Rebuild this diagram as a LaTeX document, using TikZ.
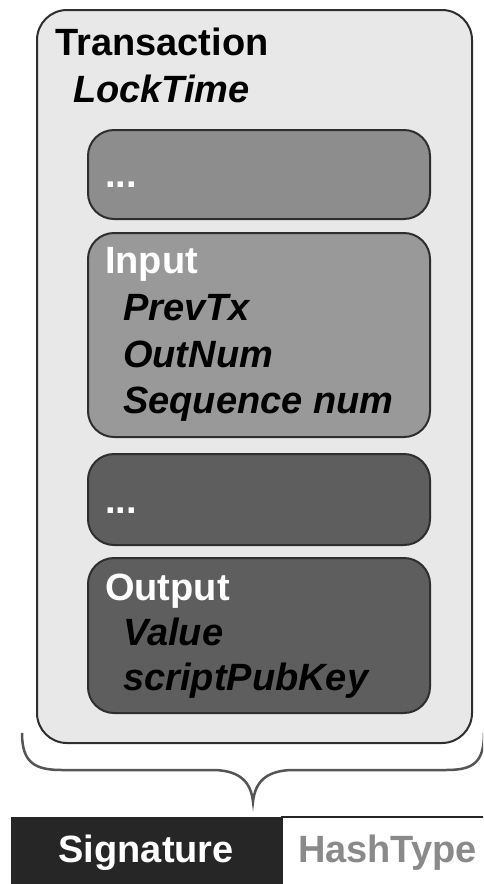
\documentclass[tikz,border=0pt]{standalone}
\usepackage{fontspec}
\setmainfont{Liberation Sans}
\usetikzlibrary{positioning}
\definecolor{txfill}{HTML}{E8E8E8}
\definecolor{rimc}{HTML}{2E2E2E}
\definecolor{infill}{HTML}{999999}
\definecolor{outfill}{HTML}{5E5E5E}
\definecolor{sigfill}{HTML}{262626}
\definecolor{hashtxt}{HTML}{8A8A8A}
\definecolor{bracec}{HTML}{555555}

\begin{document}
\begin{tikzpicture}[x=1pt,y=-1pt,
  outer/.style={draw=rimc,line width=2pt,fill=txfill,rounded corners=30pt,minimum width=435pt,minimum height=733pt},
  field/.style={draw=rimc,line width=2pt,rounded corners=26pt,minimum width=342pt},
  ttl/.style={anchor=base west,inner sep=0pt,font=\fontsize{38}{44}\selectfont\bfseries},
  itm/.style={ttl,font=\fontsize{38}{44}\selectfont\bfseries\itshape},
  bar/.style={minimum height=72pt,inner sep=0pt,text height=27pt,text depth=8pt,font=\fontsize{38}{44}\selectfont\bfseries}
]
\clip[use as bounding box] (0,0) rectangle (483,884);

% transaction frame
\node[outer] (tx) at (254.5,376.5) {};
\node[ttl] (ttx)   at (55,55)  {Transaction};
\node[itm] (tlock) at (73,102) {LockTime};

% inputs
\node[field,fill=infill!92!black,minimum height=89pt]  (more1) at (259,174.5) {};
\node[ttl,text=white] (dots1) at (105,187) {...};
\node[field,fill=infill,minimum height=204pt] (inp) at (259,335) {};
\node[ttl,text=white] (tin)  at (105,273) {Input};
\node[itm] (tprev) at (123,320) {PrevTx};
\node[itm] (tnum)  at (123,367) {OutNum};
\node[itm] (tseq)  at (123,413) {Sequence num};

% outputs
\node[field,fill=outfill,minimum height=91pt]  (more2) at (259,499.5) {};
\node[ttl,text=white] (dots2) at (105,513) {...};
\node[field,fill=outfill,minimum height=155pt] (outp) at (259,635.5) {};
\node[ttl,text=white] (tout) at (105,600) {Output};
\node[itm] (tval) at (123,645) {Value};
\node[itm] (tspk) at (123,690) {scriptPubKey};

% brace under the frame
\draw[bracec,line width=2.5pt] (22,733) .. controls (22,763) and (35,770) .. (62,770)
  -- (215,770) .. controls (240,771) and (251,782) .. (253,802)
  .. controls (255,782) and (266,771) .. (291,770)
  -- (446,770) .. controls (473,770) and (484,763) .. (484,733);

% signature
\node[bar,fill=sigfill,text=white,minimum width=270pt,anchor=north west] (sig) at (11,817) {Signature};
\node[bar,fill=white,draw=sigfill,line width=2pt,text=hashtxt,minimum width=210pt,right=0pt of sig] (hash) {HashType};
\end{tikzpicture}
\end{document}
